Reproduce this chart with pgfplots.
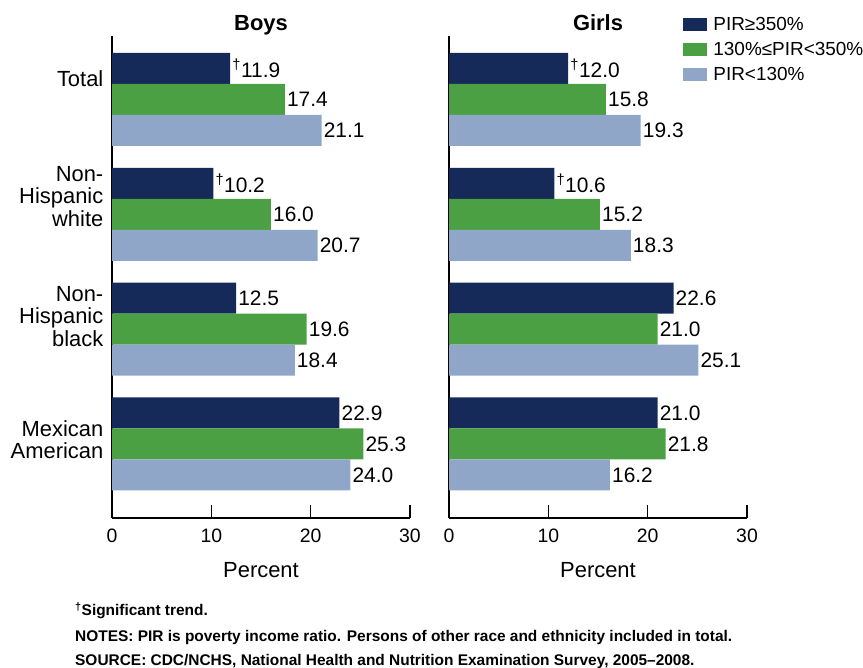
\documentclass[border=0pt]{standalone}
\usepackage{fontspec}
\setmainfont{Liberation Sans}
\usepackage{pgfplots}
\pgfplotsset{compat=1.18}

\definecolor{pirhigh}{RGB}{22,42,90}
\definecolor{pirmid}{RGB}{76,160,68}
\definecolor{pirlow}{RGB}{143,166,200}

\newcommand\dg{\textsuperscript{†}}
\newcommand\lbl{\fontsize{22}{24}\selectfont}
\newcommand\val{\fontsize{21}{24}\selectfont}

\pgfplotsset{
  panel/.style={
    xbar, scale only axis,
    width=298bp, height=482bp,
    xmin=0, xmax=30,
    ymin=-0.553, ymax=3.645, y dir=reverse,
    axis lines=left,
    axis line style={-, line width=1.6bp, black},
    xtick={0,10,20,30},
    xtick align=inside,
    major tick length=13bp,
    xtick style={line width=1.4bp, black},
    ytick={-0.179,0.845,1.89,2.962},
    ytick style={draw=none},
    bar width=0.27,
    tick label style={font=\fontsize{19.5}{22}\selectfont},
    xticklabel style={anchor=center, yshift=-18bp},
    /pgf/number format/assume math mode=true,
    xlabel={Percent},
    xlabel style={font=\lbl, at={(axis description cs:0.5,0)}, anchor=center, yshift=-52bp},
    title style={font=\bfseries\fontsize{22}{26}\selectfont, at={(axis description cs:0.5,1)}, anchor=base, inner sep=0pt, yshift=0bp},
    point meta=explicit symbolic,
    nodes near coords,
    nodes near coords style={font=\val, text=black, anchor=west, inner sep=2bp},
    clip=false,
  },
  hi/.style={fill=pirhigh, draw=none, bar shift=-0.27},
  mid/.style={fill=pirmid, draw=none, bar shift=0},
  lo/.style={fill=pirlow, draw=none, bar shift=0.27},
}

\begin{document}
\begin{tikzpicture}
\useasboundingbox (0,0) rectangle (863bp,668bp);

% Boys
\begin{axis}[panel, at={(112bp,150bp)}, anchor=south west,
  title={Boys},
  yticklabels={Total, Non-\\Hispanic\\white, Non-\\Hispanic\\black, Mexican\\American},
  yticklabel style={align=right, inner sep=0pt, xshift=-2bp, font=\fontsize{22}{22.5}\selectfont},
]
\addplot[hi] coordinates {(11.9,0) [\dg 11.9] (10.2,1) [\dg 10.2] (12.5,2) [12.5] (22.9,3) [22.9]};
\addplot[mid] coordinates {(17.4,0) [17.4] (16.0,1) [16.0] (19.6,2) [19.6] (25.3,3) [25.3]};
\addplot[lo] coordinates {(21.1,0) [21.1] (20.7,1) [20.7] (18.4,2) [18.4] (24.0,3) [24.0]};
\end{axis}

% Girls
\begin{axis}[panel, at={(449bp,150bp)}, anchor=south west,
  title={Girls},
  yticklabels={},
  legend cell align=left,
  legend style={at={(axis description cs:0.786,1.044)}, anchor=north west,
    draw=none, fill=none, inner sep=0pt, row sep=4bp, column sep=3bp,
    font=\fontsize{19}{22}\selectfont,
    nodes={inner ysep=1.5bp, inner xsep=3bp, text height=14bp, text depth=4bp}},
  legend image code/.code={\fill[#1] (0bp,-6bp) rectangle (24bp,7bp);},
]
\addplot[hi] coordinates {(12.0,0) [\dg 12.0] (10.6,1) [\dg 10.6] (22.6,2) [22.6] (21.0,3) [21.0]};
\addplot[mid] coordinates {(15.8,0) [15.8] (15.2,1) [15.2] (21.0,2) [21.0] (21.8,3) [21.8]};
\addplot[lo] coordinates {(19.3,0) [19.3] (18.3,1) [18.3] (25.1,2) [25.1] (16.2,3) [16.2]};
\legend{PIR≥350\%, 130\%≤PIR<350\%, PIR<130\%}
\end{axis}

% notes
\begin{scope}[every node/.style={anchor=base west, inner sep=0pt, font=\bfseries\fontsize{15.5}{18}\selectfont}]
\node at (75bp,52bp) {\dg Significant trend.};
\node at (75bp,27bp) {NOTES: PIR is poverty income ratio. Persons of other race and ethnicity included in total.};
\node at (75bp,3bp) {SOURCE: CDC/NCHS, National Health and Nutrition Examination Survey, 2005–2008.};
\end{scope}
\end{tikzpicture}
\end{document}
